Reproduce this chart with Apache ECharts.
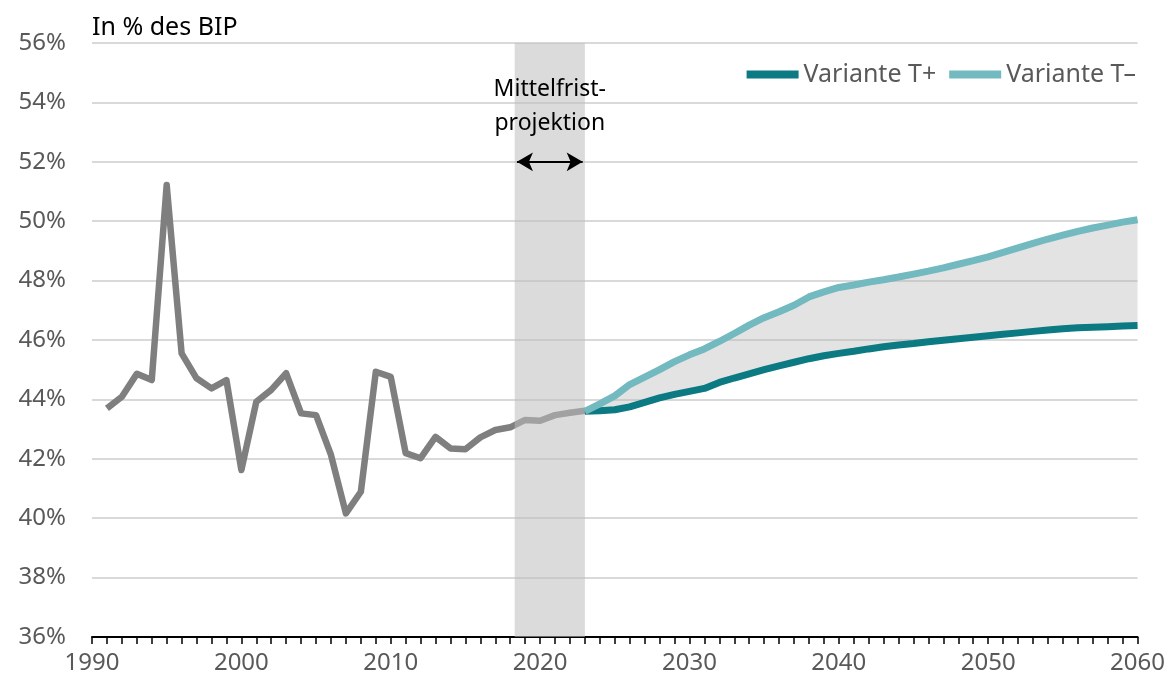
<!DOCTYPE html>
<html>
<head>
<meta charset="utf-8">
<script src="https://cdn.jsdelivr.net/npm/echarts@6/dist/echarts.min.js"></script>
<style>
html,body{margin:0;padding:0;background:#fff;}
#chart{width:1168px;height:686px;}
</style>
</head>
<body>
<div id="chart"></div>
<script>
// ---- data ----
const histStart = 1991;
const histValues = [43.7, 44.09, 44.86, 44.65, 51.22, 45.55, 44.71, 44.37, 44.65, 41.62,
  43.92, 44.32, 44.88, 43.53, 43.47, 42.13, 40.16, 40.89, 44.93, 44.76,
  42.19, 42.02, 42.74, 42.35, 42.32, 42.72, 42.97, 43.06, 43.31, 43.28,
  43.47, 43.55, 43.62];
const projStart = 2023;
const tPlusValues = [43.6, 43.62, 43.65, 43.75, 43.9, 44.05, 44.17, 44.27, 44.37, 44.57,
  44.72, 44.86, 45.0, 45.13, 45.25, 45.37, 45.47, 45.55, 45.62, 45.7,
  45.77, 45.83, 45.88, 45.94, 45.99, 46.04, 46.09, 46.14, 46.19, 46.24,
  46.29, 46.34, 46.38, 46.41, 46.43, 46.45, 46.47, 46.49];
const tMinusValues = [43.6, 43.85, 44.12, 44.5, 44.75, 45.0, 45.27, 45.5, 45.7, 45.95,
  46.22, 46.5, 46.75, 46.95, 47.17, 47.45, 47.62, 47.77, 47.85, 47.95,
  48.03, 48.12, 48.22, 48.32, 48.43, 48.55, 48.67, 48.8, 48.95, 49.1,
  49.25, 49.4, 49.53, 49.66, 49.77, 49.87, 49.97, 50.05];
const seriesNames = ['Variante T+', 'Variante T\u2013'];
const axisTitle = 'In % des BIP';
const bandRange = [2018.3, 2023];
const bandLabel = 'Mittelfrist-\nprojektion';
const xRange = [1990, 2060];
const yRange = [36, 56];

// ---- build ----
const pairs = (start, vals) => vals.map((v, i) => [start + i, v]);
const histData = pairs(histStart, histValues);
const tPlusData = pairs(projStart, tPlusValues);
const tMinusData = pairs(projStart, tMinusValues);

const FONT = '"Source Sans Pro","Noto Sans",sans-serif';
const chart = echarts.init(document.getElementById('chart'), null, {renderer: 'canvas'});
chart.setOption({
  animation: false,
  backgroundColor: '#fff',
  textStyle: {fontFamily: FONT},
  grid: {left: 92, right: 30, top: 43, bottom: 49, containLabel: false},
  legend: {
    data: seriesNames,
    right: 27, top: 57,
    icon: 'rect', itemWidth: 52, itemHeight: 8, itemGap: 13,
    textStyle: {fontSize: 25, color: '#595959', fontFamily: FONT}
  },
  xAxis: {
    type: 'value', min: xRange[0], max: xRange[1], interval: 10,
    axisLine: {show: true, onZero: false, lineStyle: {color: '#000', width: 2}},
    axisTick: {show: true, length: 7, lineStyle: {color: '#000', width: 1.5}},
    minorTick: {show: true, splitNumber: 10, length: 7, lineStyle: {color: '#000', width: 1.5}},
    splitLine: {show: false},
    axisLabel: {fontSize: 24, color: '#595959', margin: 14, fontFamily: FONT, formatter: v => String(v)}
  },
  yAxis: {
    type: 'value', min: yRange[0], max: yRange[1], interval: 2,
    name: axisTitle, nameLocation: 'end', nameGap: 15,
    nameTextStyle: {fontSize: 25, color: '#000', align: 'left', verticalAlign: 'middle', fontFamily: FONT},
    axisLine: {show: false}, axisTick: {show: false},
    splitLine: {lineStyle: {color: '#d9d9d9', width: 2}},
    axisLabel: {fontSize: 24, color: '#595959', margin: 26, formatter: '{value}%', fontFamily: FONT}
  },
  series: [
    {
      type: 'line', name: 'hist', data: histData, showSymbol: false, symbol: 'none',
      itemStyle: {color: '#7f7f7f'},
      lineStyle: {width: 6.5, join: 'round', color: '#7f7f7f'}, z: 2
    },
    {
      type: 'line', name: 'band', data: [], symbol: 'none', z: 3, silent: true,
      markArea: {
        silent: true, z: 3,
        itemStyle: {color: 'rgba(190,190,190,0.55)'},
        data: [[{xAxis: bandRange[0], yAxis: yRange[1]}, {xAxis: bandRange[1], yAxis: yRange[0]}]]
      },
      markLine: {
        silent: true, symbol: ['arrow', 'arrow'], symbolSize: [14, 16],
        lineStyle: {color: '#000', width: 2, type: 'solid'},
        label: {show: false},
        data: [[{xAxis: bandRange[0] + 0.15, yAxis: 52}, {xAxis: bandRange[1] - 0.15, yAxis: 52}]]
      },
      markPoint: {
        silent: true, symbol: 'circle', symbolSize: 1,
        itemStyle: {color: 'rgba(0,0,0,0)'},
        label: {show: true, position: 'inside', formatter: bandLabel, fontSize: 23, lineHeight: 34, color: '#000', fontFamily: FONT},
        data: [{xAxis: (bandRange[0] + bandRange[1]) / 2, yAxis: 53.85}]
      }
    },
    {
      type: 'custom', name: 'range', silent: true, z: 1,
      data: [tMinusData[0]],
      encode: {x: 0, y: 1},
      renderItem: function (params, api) {
        const upper = tMinusData.map(p => api.coord(p));
        const lower = tPlusData.slice().reverse().map(p => api.coord(p));
        return {
          type: 'polygon',
          shape: {points: upper.concat(lower)},
          style: {fill: 'rgba(180,180,180,0.37)', stroke: null}
        };
      }
    },
    {
      type: 'line', name: seriesNames[0], data: tPlusData, symbol: 'none',
      itemStyle: {color: '#0c7a83'}, lineStyle: {width: 7, color: '#0c7a83'}, z: 4
    },
    {
      type: 'line', name: seriesNames[1], data: tMinusData, symbol: 'none',
      itemStyle: {color: '#72b9c0'}, lineStyle: {width: 7, color: '#72b9c0'}, z: 5
    }
  ]
});
</script>
</body>
</html>
